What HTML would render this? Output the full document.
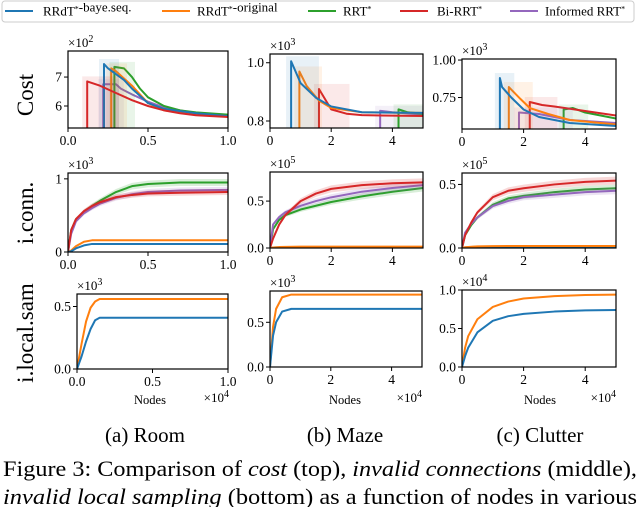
<!DOCTYPE html>
<html><head><meta charset="utf-8">
<style>
html,body{margin:0;padding:0;background:#fff;}
body{width:640px;height:507px;overflow:hidden;position:relative;font-family:"Liberation Serif",serif;}
svg{position:absolute;left:0;top:0;}
</style></head>
<body>
<svg id="fig" width="640" height="507" font-family="Liberation Serif, serif"></svg>
<script>
// ---------- data ----------
const seriesNames = ["RRdT*-baye.seq.","RRdT*-original","RRT*","Bi-RRT*","Informed RRT*"];
const colors = ["#1f77b4","#ff7f0e","#2ca02c","#d62728","#9467bd"];

// Cost (row 1)
const roomCostX = {
  blue:[0.225,0.25,0.3,0.35,0.4,0.5,0.6,0.8,1.0],
  orange:[0.27,0.3,0.35,0.4,0.45,0.5,0.6,0.8,1.0],
  green:[0.29,0.35,0.4,0.45,0.5,0.6,0.7,0.8,1.0],
  red:[0.12,0.2,0.3,0.4,0.5,0.6,0.7,0.8,1.0],
  purple:[0.22,0.3,0.33,0.4,0.5,0.6,0.8,1.0]
};
const roomCostY = {
  blue:[7.45,7.3,7.1,6.9,6.6,6.1,5.9,5.75,5.65],
  orange:[7.3,7.2,6.95,6.7,6.4,6.1,5.85,5.72,5.65],
  green:[7.35,7.3,7.0,6.6,6.3,6.0,5.85,5.78,5.7],
  red:[6.85,6.7,6.45,6.2,6.0,5.85,5.75,5.68,5.62],
  purple:[6.75,6.75,6.6,6.4,6.15,5.95,5.75,5.65]
};
const mazeCostX = {
  blue:[0.69,1.0,1.5,2.0,3.0,5.0],
  orange:[0.96,1.2,1.6,2.0,3.0,5.0],
  red:[1.6,2.0,2.5,3.0,5.0],
  purple:[3.6,4.0,5.0],
  green:[4.2,4.5,5.0]
};
const mazeCostY = {
  blue:[1.005,0.93,0.88,0.85,0.83,0.828],
  orange:[0.97,0.92,0.87,0.845,0.83,0.828],
  red:[0.91,0.84,0.825,0.82,0.817],
  purple:[0.835,0.83,0.822],
  green:[0.84,0.83,0.825]
};
const clutCostX = {
  blue:[1.23,1.3,1.6,2.0,2.5,3.5,5.0],
  orange:[1.52,1.9,2.2,2.8,3.5,5.0],
  purple:[1.85,2.5,3.5,5.0],
  red:[2.2,2.6,3.0,4.0,5.0],
  green:[3.3,3.6,4.0,5.0]
};
const clutCostY = {
  blue:[0.88,0.82,0.75,0.67,0.62,0.58,0.56],
  orange:[0.82,0.74,0.68,0.64,0.6,0.57],
  purple:[0.65,0.64,0.6,0.58],
  red:[0.72,0.7,0.69,0.66,0.63],
  green:[0.67,0.68,0.65,0.61]
};
// i.conn (row 2)
const roomConnX = [0,0.02,0.05,0.1,0.15,0.2,0.3,0.4,0.5,0.7,1.0];
const roomConnY = {
  green:[0,0.3,0.45,0.55,0.63,0.7,0.82,0.9,0.93,0.95,0.95],
  purple:[0,0.25,0.42,0.53,0.6,0.66,0.74,0.79,0.82,0.84,0.85],
  red:[0,0.3,0.45,0.56,0.63,0.68,0.75,0.78,0.8,0.81,0.82],
  orange:[0,0.02,0.08,0.14,0.16,0.16,0.16,0.16,0.16,0.16,0.16],
  blue:[0,0.01,0.05,0.09,0.11,0.11,0.11,0.11,0.11,0.11,0.11]
};
const mazeConnX = [0,0.1,0.3,0.5,1,1.5,2,3,4,5];
const mazeConnY = {
  green:[0,0.2,0.3,0.35,0.41,0.45,0.49,0.55,0.6,0.64],
  purple:[0,0.25,0.33,0.38,0.45,0.5,0.54,0.6,0.64,0.67],
  red:[0,0.1,0.25,0.35,0.5,0.58,0.63,0.67,0.69,0.70],
  blue:[0,0.005,0.008,0.01,0.01,0.01,0.01,0.01,0.01,0.01],
  orange:[0,0.005,0.01,0.012,0.014,0.015,0.015,0.015,0.015,0.015]
};
const clutConnX = [0,0.1,0.3,0.5,1,1.5,2,3,4,5];
const clutConnY = {
  green:[0,0.1,0.18,0.24,0.34,0.39,0.41,0.44,0.46,0.47],
  purple:[0,0.12,0.19,0.24,0.33,0.37,0.4,0.42,0.44,0.45],
  red:[0,0.1,0.2,0.28,0.4,0.45,0.47,0.5,0.52,0.53],
  blue:[0,0.005,0.008,0.01,0.012,0.012,0.012,0.012,0.012,0.012],
  orange:[0,0.006,0.01,0.013,0.015,0.016,0.016,0.016,0.016,0.016]
};
// i.local.sam (row 3)
const roomSamX = [0,0.03,0.06,0.09,0.12,0.15,0.2,1.0];
const roomSamY = {orange:[0,0.2,0.38,0.49,0.54,0.56,0.56,0.56], blue:[0,0.1,0.22,0.32,0.39,0.41,0.41,0.41]};
const mazeSamX = [0,0.1,0.2,0.4,0.7,1,5];
const mazeSamY = {orange:[0,0.45,0.65,0.78,0.81,0.81,0.81], blue:[0,0.35,0.5,0.62,0.65,0.65,0.65]};
const clutSamX = [0,0.1,0.2,0.5,1,1.5,2,3,4,5];
const clutSamY = {orange:[0,0.25,0.4,0.62,0.78,0.85,0.89,0.92,0.935,0.94], blue:[0,0.14,0.25,0.45,0.6,0.66,0.69,0.72,0.735,0.74]};

const colorOf = {blue:colors[0],orange:colors[1],green:colors[2],red:colors[3],purple:colors[4]};
const NS = "http://www.w3.org/2000/svg";
const svg = document.getElementById("fig");
function mk(tag, attrs, parent){const e=document.createElementNS(NS,tag);for(const k in attrs)e.setAttribute(k,attrs[k]);(parent||svg).appendChild(e);return e;}

function axes(name, box, xlim, ylim, xticks, xtl, yticks, ytl, mult){
  const g = mk("g",{});
  
  
  const sx = v => box.l + (v - xlim[0])/(xlim[1]-xlim[0])*(box.r-box.l);
  const sy = v => box.b - (v - ylim[0])/(ylim[1]-ylim[0])*(box.b-box.t);
  const clip = mk("clipPath",{id:"c"+name},g);
  mk("rect",{x:box.l,y:box.t,width:box.r-box.l,height:box.b-box.t},clip);
  const plot = mk("g",{"clip-path":"url(#c"+name+")"},g);
  xticks.forEach((v,i)=>{
    mk("line",{x1:sx(v),x2:sx(v),y1:box.b,y2:box.b+4,stroke:"#000","stroke-width":1},g);
    const t=mk("text",{x:sx(v),y:box.b+17,"text-anchor":"middle","font-size":13.5},g);t.textContent=xtl[i];
    
    
  });
  yticks.forEach((v,i)=>{
    mk("line",{x1:box.l-4,x2:box.l,y1:sy(v),y2:sy(v),stroke:"#000","stroke-width":1},g);
    const t=mk("text",{x:box.l-6,y:sy(v)+4.5,"text-anchor":"end","font-size":13.5},g);t.textContent=ytl[i];
    
    
  });
  const m=mk("text",{x:box.l,y:box.t-4,"font-size":13},g);
  m.innerHTML='×10<tspan dy="-5" font-size="10">'+mult+'</tspan>';
  
  
  const frame=mk("rect",{x:box.l,y:box.t,width:box.r-box.l,height:box.b-box.t,fill:"none",stroke:"#000","stroke-width":1.2},g);
  
  
  return {plot,sx,sy,box};
}
function costSeries(ax, key, xs, ys){
  const c = colorOf[key];
  const r = mk("rect",{x:ax.sx(xs[0])-5,y:ax.sy(ys[0])-5,width:Math.max(10,ax.sx(xs[Math.min(2,xs.length-1)])-ax.sx(xs[0])+8),height:ax.box.b-ax.sy(ys[0])+5,fill:c,opacity:0.1},ax.plot);
  
  
  let d = "M"+ax.sx(xs[0])+","+(ax.box.b+2)+" L"+ax.sx(xs[0])+","+ax.sy(ys[0]);
  for(let i=1;i<xs.length;i++){d+=" L"+ax.sx(xs[i])+","+ax.sy(ys[i]);}
  const p = mk("path",{d:d,fill:"none",stroke:c,"stroke-width":2,"stroke-linejoin":"round"},ax.plot);
  
  
}
function curve(ax, key, xs, ys, band){
  const c = colorOf[key];
  if(band>0){
    let up="",lo="";
    xs.forEach((x,i)=>{up+=(i?"L":"M")+ax.sx(x)+","+ax.sy(ys[i]*(1+band))+" ";});
    for(let i=xs.length-1;i>=0;i--){lo+="L"+ax.sx(xs[i])+","+ax.sy(ys[i]*(1-band))+" ";}
    const b=mk("path",{d:up+lo+"Z",fill:c,opacity:0.18,stroke:"none"},ax.plot);
    
    
  }
  let d="";
  xs.forEach((x,i)=>{d+=(i?"L":"M")+ax.sx(x)+","+ax.sy(ys[i])+" ";});
  const p=mk("path",{d:d,fill:"none",stroke:c,"stroke-width":2,"stroke-linejoin":"round"},ax.plot);
  
  
}

// Row 1
let ax = axes("room-cost",{l:68,r:228,t:51,b:128},[0,1],[5.24,7.9],[0,0.5,1],["0.0","0.5","1.0"],[6,7],["6","7"],"2");
["purple","green","orange","blue","red"].forEach(k=>costSeries(ax,k,roomCostX[k],roomCostY[k]));
ax = axes("maze-cost",{l:270,r:423,t:54,b:128},[0,5],[0.776,1.03],[0,2,4],["0","2","4"],[0.8,1.0],["0.8","1.0"],"3");
["purple","green","red","orange","blue"].forEach(k=>costSeries(ax,k,mazeCostX[k],mazeCostY[k]));
ax = axes("clutter-cost",{l:462,r:616,t:59,b:129},[0,5],[0.54,1.007],[0,2,4],["0","2","4"],[0.75,1.0],["0.75","1.00"],"3");
["green","red","purple","orange","blue"].forEach(k=>costSeries(ax,k,clutCostX[k],clutCostY[k]));
// Row 2
ax = axes("room-iconn",{l:68,r:228,t:173,b:252},[0,1],[0,1.08],[0,0.5,1],["0.0","0.5","1.0"],[0,1],["0","1"],"3");
["green","purple","red","orange","blue"].forEach(k=>curve(ax,k,roomConnX,roomConnY[k],0.05));
ax = axes("maze-iconn",{l:270,r:423,t:172,b:248},[0,5],[0,0.81],[0,2,4],["0","2","4"],[0,0.5],["0.0","0.5"],"5");
["green","purple","red","blue","orange"].forEach(k=>curve(ax,k,mazeConnX,mazeConnY[k],0.06));
ax = axes("clutter-iconn",{l:462,r:616,t:173,b:248},[0,5],[0,0.59],[0,2,4],["0","2","4"],[0,0.5],["0.0","0.5"],"5");
["green","purple","red","blue","orange"].forEach(k=>curve(ax,k,clutConnX,clutConnY[k],0.06));
// Row 3
ax = axes("room-ilocal",{l:77,r:228,t:294,b:369},[0,1],[0,0.6],[0,0.5,1],["0.0","0.5","1.0"],[0,0.5],["0.0","0.5"],"3");
["orange","blue"].forEach(k=>curve(ax,k,roomSamX,roomSamY[k],0.01));
ax = axes("maze-ilocal",{l:270,r:422,t:291,b:367},[0,5],[0,0.85],[0,2,4],["0","2","4"],[0,0.5],["0.0","0.5"],"3");
["orange","blue"].forEach(k=>curve(ax,k,mazeSamX,mazeSamY[k],0.01));
ax = axes("clutter-ilocal",{l:462,r:616,t:290,b:367},[0,5],[0,1.0],[0,2,4],["0","2","4"],[0,0.5,1.0],["0.0","0.5","1.0"],"4");
["orange","blue"].forEach(k=>curve(ax,k,clutSamX,clutSamY[k],0.01));

[[150,229],[345,422],[540,616]].forEach(([cx,rx])=>{
  const t=mk("text",{x:cx,y:404,"text-anchor":"middle","font-size":12.5});t.textContent="Nodes";
  
  
  const m=mk("text",{x:rx,y:402,"text-anchor":"end","font-size":13});m.innerHTML='×10<tspan dy="-5" font-size="10">4</tspan>';
  
  
});
[["Cost",95],["i.conn.",213],["i.local.sam",333]].forEach(([s,cy])=>{
  const t=mk("text",{x:0,y:0,"text-anchor":"middle","font-size":23,transform:"translate(33,"+cy+") rotate(-90)"});t.textContent=s;
  
  
});
const lg = mk("g",{});


mk("rect",{x:2,y:1,width:632,height:21,rx:3,fill:"#fff",stroke:"#ccc","stroke-width":1},lg);
const legX=[[5,43],[162,197],[308,343],[400,437],[510,545]];
seriesNames.forEach((n,i)=>{
  const e=mk("g",{},lg);
  
  
  mk("line",{x1:legX[i][0],x2:legX[i][0]+28,y1:11,y2:11,stroke:colors[i],"stroke-width":2},e);
  const t=mk("text",{x:legX[i][1],y:15.5,"font-size":13},e);
  t.innerHTML=n.replace("*",'<tspan dy="-4" font-size="8">*</tspan><tspan dy="4"></tspan>');
});
[["(a) Room",145],["(b) Maze",345],["(c) Clutter",540]].forEach(([s,cx])=>{
  const t=mk("text",{x:cx,y:442,"text-anchor":"middle","font-size":21});t.textContent=s;
  
  
});
const c1=mk("text",{x:3,y:476,"font-size":22.5,textLength:634,lengthAdjust:"spacingAndGlyphs"});
c1.innerHTML='Figure 3: Comparison of <tspan font-style="italic">cost</tspan> (top), <tspan font-style="italic">invalid connections</tspan> (middle),';


const c2=mk("text",{x:3,y:504,"font-size":22.5,textLength:634,lengthAdjust:"spacingAndGlyphs"});
c2.innerHTML='<tspan font-style="italic">invalid local sampling</tspan> (bottom) as a function of nodes in various';


</script>
</body></html>
